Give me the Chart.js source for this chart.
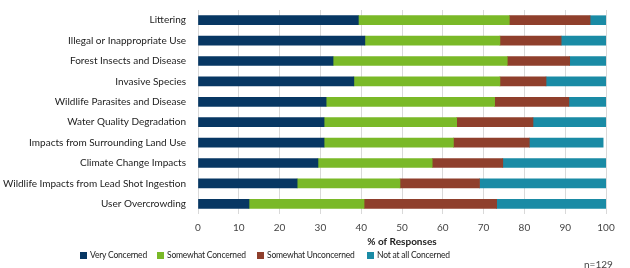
<!DOCTYPE html>
<html>
<head>
<meta charset="utf-8">
<script src="https://cdn.jsdelivr.net/npm/chart.js@4/dist/chart.umd.min.js"></script>
<style>
  html, body { margin: 0; padding: 0; background: #fff; }
  #wrap { position: relative; width: 630px; height: 268px; font-family: Lato, 'Open Sans', sans-serif; }
  #legend { position: absolute; left: 0; top: 250px; width: 630px; height: 14px; font-size: 8.5px; letter-spacing: -0.2px; color: #222; }
  #legend span.item { position: absolute; top: 0; display: flex; align-items: center; white-space: nowrap; }
  #legend i { display: inline-block; width: 7px; height: 7px; margin-right: 3px; }
  #nval { position: absolute; left: 584px; top: 258px; font-size: 10px; color: #444; }
</style>
</head>
<body>
<div id="wrap">
  <canvas id="grafico" width="630" height="268"></canvas>
  <div id="legend"></div>
  <div id="nval">n=129</div>
</div>
<script>
// Categorias e valores (% de respostas)
const categorias = [
    'Littering',
    'Illegal or Inappropriate Use',
    'Forest Insects and Disease',
    'Invasive Species',
    'Wildlife Parasites and Disease',
    'Water Quality Degradation',
    'Impacts from Surrounding Land Use',
    'Climate Change Impacts',
    'Wildlife Impacts from Lead Shot Ingestion',
    'User Overcrowding'
];
const series = ['Very Concerned', 'Somewhat Concerned', 'Somewhat Unconcerned', 'Not at all Concerned'];
const veryConcerned = [39.3, 40.9, 33.1, 38.2, 31.4, 30.9, 30.9, 29.4, 24.3, 12.5];
const somewhatConcerned = [37.0, 33.1, 42.7, 35.8, 41.3, 32.5, 31.7, 28.0, 25.2, 28.2];
const somewhatUnconcerned = [19.8, 15.0, 15.3, 11.3, 18.2, 18.7, 18.6, 17.3, 19.5, 32.5];
const notConcerned = [3.9, 11.0, 8.9, 14.7, 9.1, 17.9, 18.1, 25.3, 31.0, 26.8];
const xTicks = [0, 10, 20, 30, 40, 50, 60, 70, 80, 90, 100];

const cores = ['#073763', '#7ab928', '#8f3f2c', '#1a8ba5'];
const valores = [veryConcerned, somewhatConcerned, somewhatUnconcerned, notConcerned];

const fonte = "Lato, 'Open Sans', sans-serif";

new Chart(document.getElementById('grafico'), {
    type: 'bar',
    data: {
        labels: categorias,
        datasets: series.map((nome, i) => ({
            label: nome,
            data: valores[i],
            backgroundColor: cores[i],
            borderWidth: 0,
            barThickness: 9
        }))
    },
    options: {
        indexAxis: 'y',
        responsive: false,
        animation: false,
        layout: { padding: { top: 8, right: 24, bottom: 20, left: 0 } },
        scales: {
            x: {
                stacked: true,
                min: 0,
                max: 100,
                afterBuildTicks: scale => { scale.ticks = xTicks.map(v => ({ value: v })); },
                afterFit: scale => { scale.height = 34; },
                grid: { color: '#d9d9d9', drawTicks: false },
                border: { display: false },
                ticks: { padding: 8, color: '#444', font: { family: fonte, size: 10 } },
                title: {
                    display: true,
                    text: '% of Responses',
                    color: '#222',
                    padding: 0,
                    font: { family: fonte, size: 10, weight: 'bold' }
                }
            },
            y: {
                stacked: true,
                afterFit: scale => { scale.width = 198; },
                grid: { display: false },
                border: { display: false },
                ticks: { padding: 4, color: '#222', font: { family: fonte, size: 10 } }
            }
        },
        plugins: {
            legend: { display: false },
            tooltip: { enabled: false }
        }
    }
});

// Legenda (posição de cada item como na figura original)
const legendaX = [80, 157, 257, 367];
const legenda = document.getElementById('legend');
series.forEach((nome, i) => {
    const item = document.createElement('span');
    item.className = 'item';
    item.style.left = legendaX[i] + 'px';
    item.innerHTML = `<i style="background:${cores[i]}"></i>${nome}`;
    legenda.appendChild(item);
});
</script>
</body>
</html>
